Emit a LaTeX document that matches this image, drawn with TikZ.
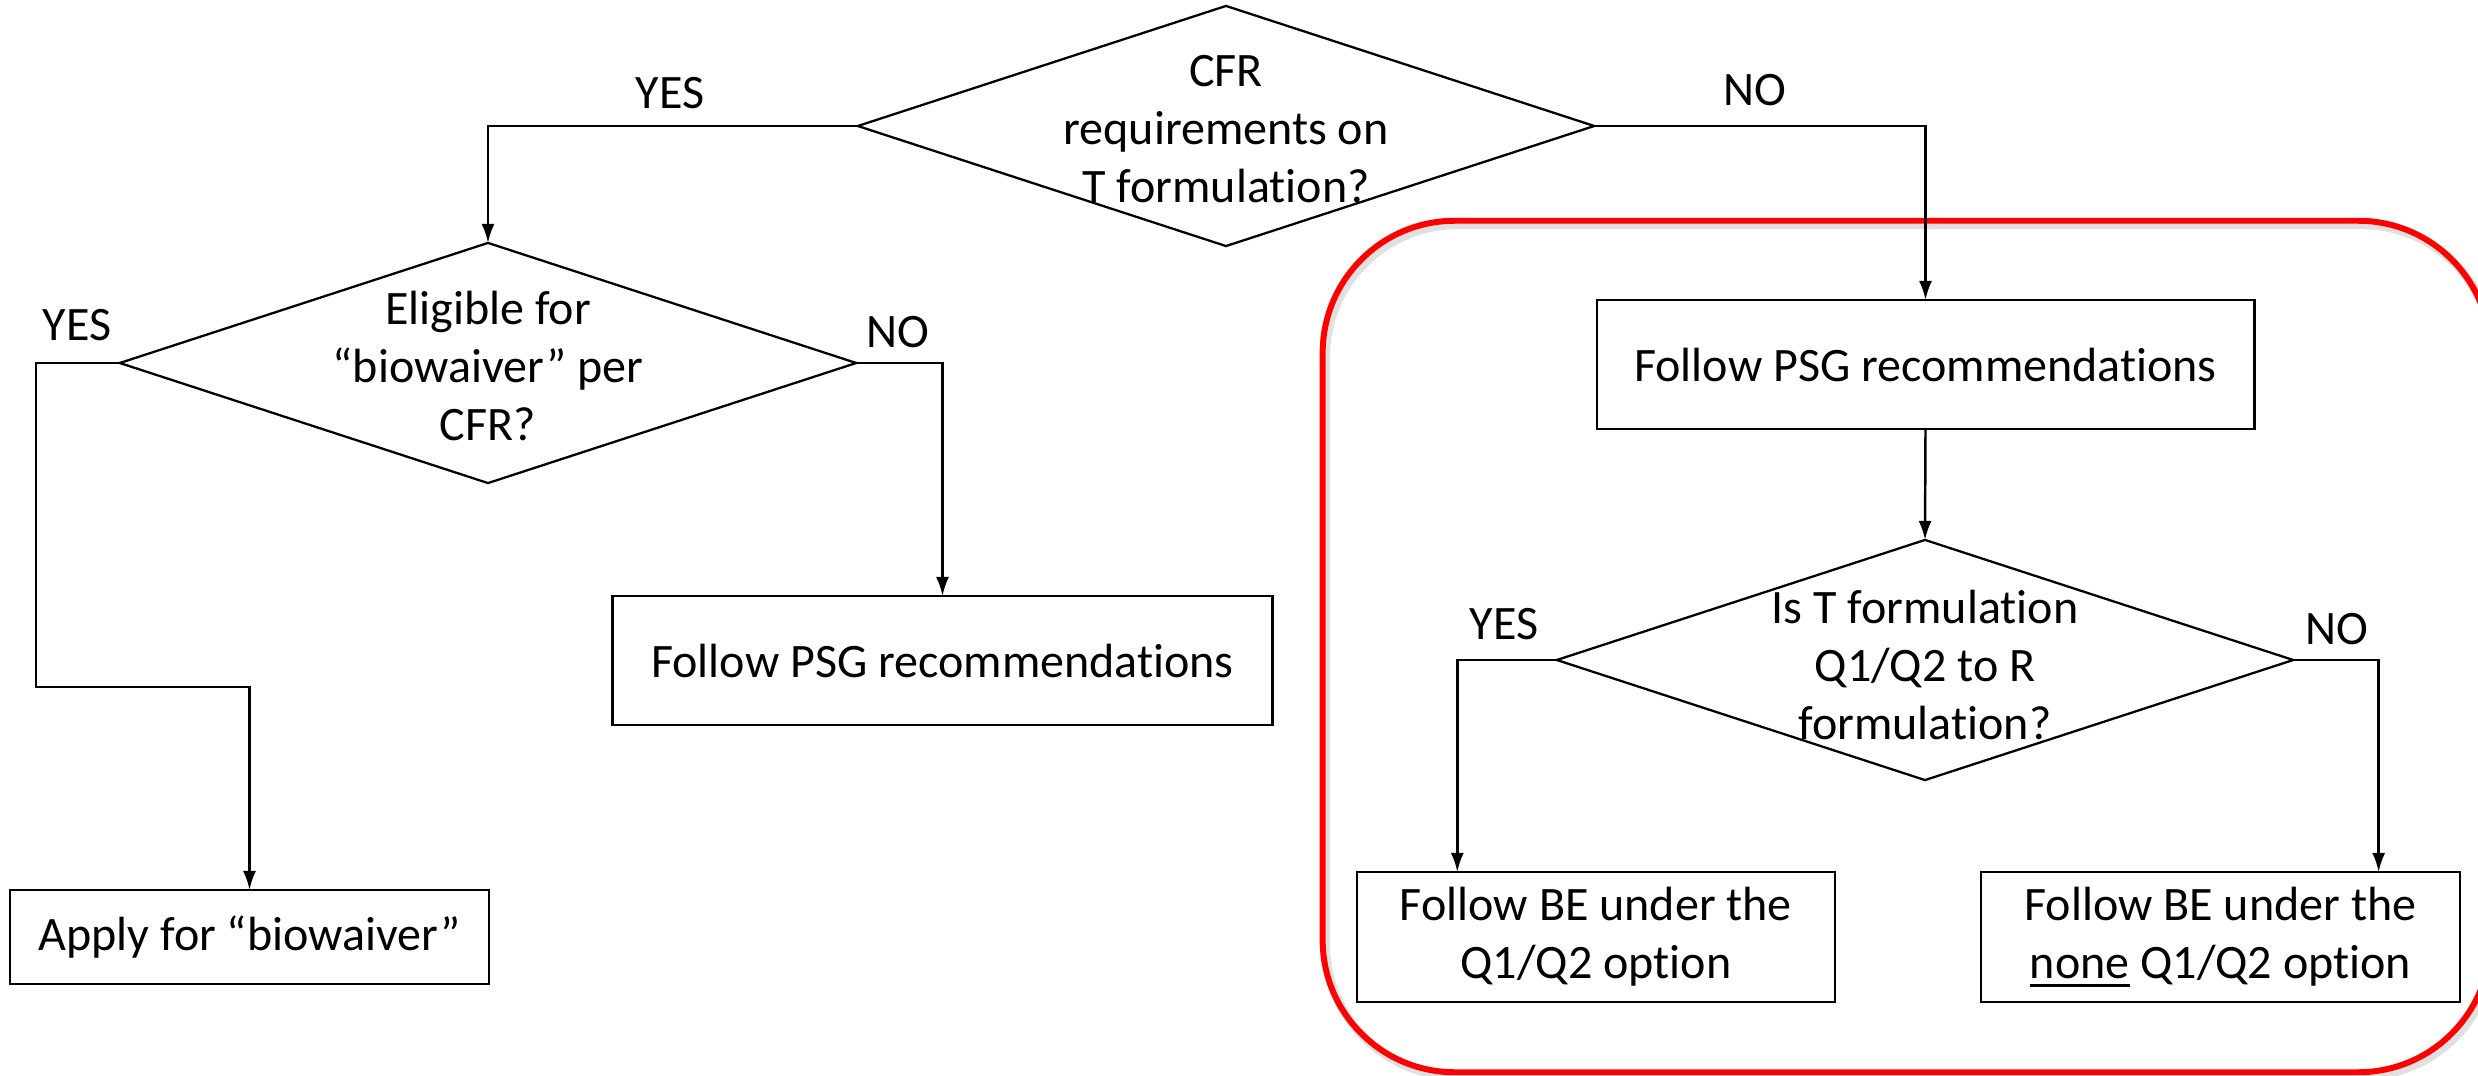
\documentclass[tikz,border=0pt]{standalone}
\usepackage{fontspec}
\setmainfont[Ligatures={NoCommon,NoContextual},RawFeature={-liga;-clig;-dlig;-calt}]{Carlito}
\usetikzlibrary{shapes.geometric,arrows.meta,calc}

% underline drawn as a rule of chosen depth and thickness
\newcommand\ulword[1]{\sbox0{#1}\rlap{\rule[-2.4pt]{\wd0}{0.85pt}}\usebox0}

\begin{document}
\begin{tikzpicture}[x=0.01cm,y=-0.01cm,
  every node/.style={font=\fontsize{13.66}{16.4}\selectfont},
  decision/.style={diamond, draw, line width=0.65pt, minimum width=7.36cm,
    minimum height=2.4cm, inner sep=0pt, outer sep=0pt},
  qtext/.style={align=center, inner sep=0pt},
  stepbox/.style={draw, line width=0.75pt, align=center, inner sep=0pt, outer sep=0pt},
  lbl/.style={inner sep=0pt},
  link/.style={line width=0.7pt, -{Latex[length=0.19cm,width=0.13cm]}},
  framebox/.style={draw=red, line width=1.7pt, rounded corners=1.32cm,
    minimum width=11.67cm, minimum height=8.51cm, inner sep=0pt, outer sep=0pt},
  frameshadow/.style={draw=black, draw opacity=0.12, line width=2.5pt, rounded corners=1.32cm,
    minimum width=11.67cm, minimum height=8.51cm, inner sep=0pt, outer sep=0pt},
  ]
\useasboundingbox (0,0) rectangle (2478,1076);

% highlighted region with a soft shadow
\node[frameshadow] (frameshade) at (1909.5,650.5) {};
\node[framebox] (frame) at (1906.5,646.5) {};

% decisions
\node[decision] (d1) at (1226,126) {};
\node[qtext] (t1) at (1226,129) {CFR\\requirements on\\T formulation?};

\node[decision] (d2) at (488,363) {};
\node[qtext] (t2) at (488,366) {Eligible for\\“biowaiver” per\\CFR?};

\node[decision] (d3) at (1925,660) {};
\node[qtext] (t3) at (1925,665) {Is T formulation\\Q1/Q2 to R\\formulation?};

% outcome boxes
\node[stepbox, minimum width=4.79cm, minimum height=0.94cm] (apply) at (249.5,937) {Apply for “biowaiver”};
\node[stepbox, minimum width=6.59cm, minimum height=1.29cm] (psg1) at (942.5,660.5) {Follow PSG recommendations};
\node[stepbox, minimum width=6.57cm, minimum height=1.29cm] (psg2) at (1925.5,364.5) {Follow PSG recommendations};
\node[stepbox, minimum width=4.78cm, minimum height=1.30cm] (be1) at (1596,937) {Follow BE under the\\Q1/Q2 option};
\node[stepbox, minimum width=4.79cm, minimum height=1.30cm] (be2) at (2220.5,937) {Follow BE under the\\\ulword{none} Q1/Q2 option};

% branch labels
\node[lbl] (yes1) at (670,93) {YES};
\node[lbl] (no1) at (1755,90) {NO};
\node[lbl] (yes2) at (77,325) {YES};
\node[lbl] (no2) at (898,332) {NO};
\node[lbl] (yes3) at (1504,624) {YES};
\node[lbl] (no3) at (2337,629) {NO};

% connectors
\coordinate (yesbend) at (36,687);
\draw[link] (d1.west) -| (d2.north);
\draw[link] (d1.east) -| (psg2.north);
\draw[link] (d2.west) -| (yesbend) -| (apply.north);
\draw[link] (d2.east) -| (psg1.north);
\draw[link] (psg2.south) -- (d3.north);
\draw[link] (d3.west) -| ($(be1.north west)!0.21!(be1.north east)$);
\draw[link] (d3.east) -| ($(be2.north west)!0.83!(be2.north east)$);
\end{tikzpicture}
\end{document}
